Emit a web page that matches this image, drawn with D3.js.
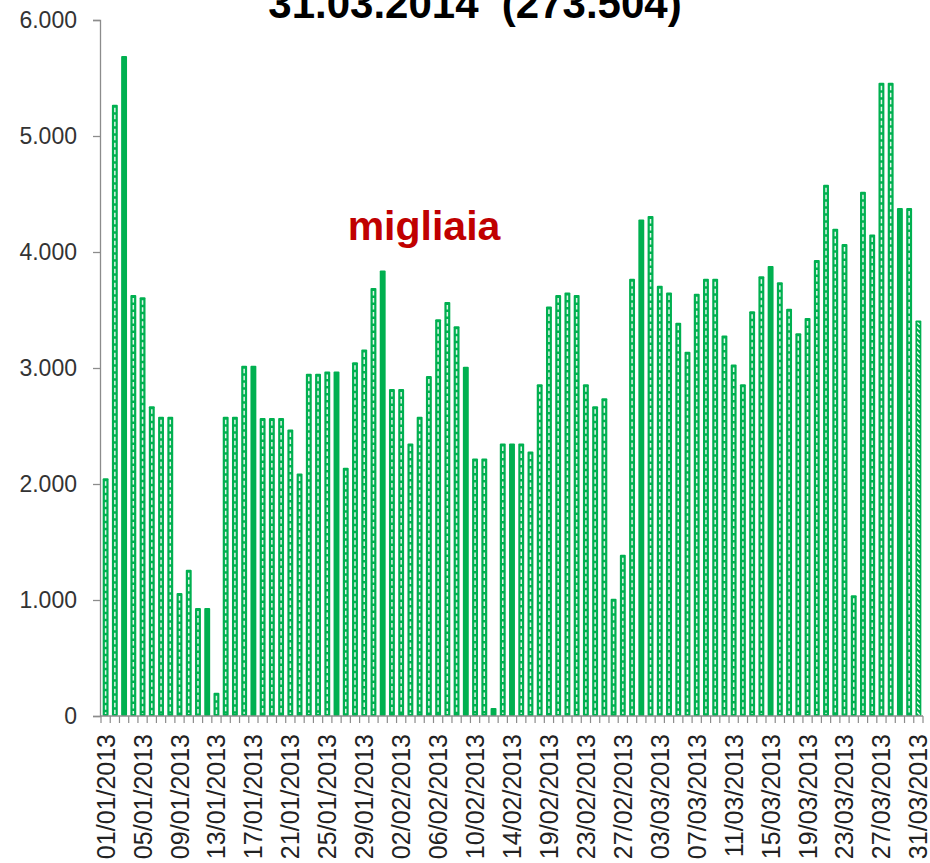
<!DOCTYPE html>
<html>
<head>
  <meta charset="UTF-8">
  <title>31.03.2014 (273.504)</title>
  <script src="https://cdn.jsdelivr.net/npm/d3@7"></script>
  <style>
    body { margin: 0; background: #fff; }
    svg { display: block; font-family: "Liberation Sans", Arial, sans-serif; }
  </style>
</head>
<body>
<div id="chart"></div>
<script>
// daily values, one per date below
var values = [
  2050, 5270, 5690, 3630, 3610, 2670, 2580, 2580, 1060, 1260,
  930, 930, 200, 2580, 2580, 3020, 3020, 2570, 2570, 2570,
  2470, 2090, 2950, 2950, 2970, 2970, 2140, 3050, 3160, 3690,
  3840, 2820, 2820, 2350, 2580, 2930, 3420, 3570, 3360, 3010,
  2220, 2220, 70, 2350, 2350, 2350, 2280, 2860, 3530, 3630,
  3650, 3630, 2860, 2670, 2740, 1010, 1390, 3770, 4280, 4310,
  3710, 3650, 3390, 3140, 3640, 3770, 3770, 3280, 3030, 2860,
  3490, 3790, 3880, 3740, 3510, 3300, 3430, 3930, 4580, 4200,
  4070, 1040, 4520, 4150, 5460, 5460, 4380, 4380, 3410
];

// months of 2013 shown and their day counts; one day in Feb has no bar
var months = ["01", "02", "03"];
var monthDays = [31, 28, 31];
var missingDates = ["17/02/2013"];

// bars drawn as plain (not dashed) green, and the last hatched one
var solidDates = ["03/01/2013", "12/01/2013", "17/01/2013", "26/01/2013", "31/01/2013",
                  "09/02/2013", "14/02/2013", "01/03/2013", "15/03/2013", "29/03/2013"];
var hatchedDates = ["31/03/2013"];

var tickLabels = ["01/01/2013", "05/01/2013", "09/01/2013", "13/01/2013", "17/01/2013",
  "21/01/2013", "25/01/2013", "29/01/2013", "02/02/2013", "06/02/2013", "10/02/2013",
  "14/02/2013", "19/02/2013", "23/02/2013", "27/02/2013", "03/03/2013", "07/03/2013",
  "11/03/2013", "15/03/2013", "19/03/2013", "23/03/2013", "27/03/2013", "31/03/2013"];

var yTicks = [0, 1000, 2000, 3000, 4000, 5000, 6000];
var title = "31.03.2014  (273.504)";
var unitLabel = "migliaia";

var dates = [];
months.forEach(function(m, mi) {
  for (var d = 1; d <= monthDays[mi]; d++) {
    var s = (d < 10 ? "0" + d : "" + d) + "/" + m + "/2013";
    if (missingDates.indexOf(s) < 0) dates.push(s);
  }
});

var data = dates.map(function(d, i) { return { date: d, value: values[i] }; });

var W = 930, H = 863;
var green = "#00b050";

var svg = d3.select("#chart").append("svg")
  .attr("width", W).attr("height", H);

var x = d3.scaleBand().domain(dates).range([101, 923]).paddingInner(0.36).paddingOuter(0.18);
var y = d3.scaleLinear().domain([0, 6000]).range([716, 20]);

var it = d3.formatLocale({ decimal: ",", thousands: ".", grouping: [3], currency: ["", "€"] });
var fmt = it.format(",d");

var defs = svg.append("defs");
var hatch = defs.append("pattern")
  .attr("id", "hatch").attr("patternUnits", "userSpaceOnUse")
  .attr("width", 5).attr("height", 5);
hatch.append("rect").attr("width", 5).attr("height", 5).attr("fill", green);
hatch.append("path").attr("d", "M-1,-1 L6,6").attr("stroke", "#fff").attr("stroke-width", 1.3);

// title (partly cut off at the top, as in the original)
svg.append("text")
  .attr("x", 475).attr("y", 18)
  .attr("text-anchor", "middle")
  .style("font-size", "42px").style("font-weight", "bold")
  .style("white-space", "pre")
  .attr("fill", "#000")
  .text(title);

svg.append("text")
  .attr("x", 424).attr("y", 240)
  .attr("text-anchor", "middle")
  .style("font-size", "41px").style("font-weight", "bold")
  .attr("fill", "#c00000")
  .text(unitLabel);

// y axis
var yAxis = d3.axisLeft(y).tickValues(yTicks).tickFormat(fmt).tickSize(7).tickPadding(16);
var gy = svg.append("g").attr("transform", "translate(100,0)").call(yAxis);
gy.select(".domain").attr("stroke", "#8c8c8c").attr("stroke-width", 1.3);
gy.selectAll(".tick line").attr("stroke", "#8c8c8c").attr("stroke-width", 1.3);
gy.selectAll(".tick text").attr("fill", "#333").style("font-size", "23px")
  .style("font-family", "'Liberation Sans', Arial, sans-serif");

// bars
var bw = x.bandwidth();
var bars = svg.append("g");
bars.selectAll("rect.bar").data(data).enter().append("rect")
  .attr("class", "bar")
  .attr("x", function(d) { return x(d.date); })
  .attr("y", function(d) { return y(d.value); })
  .attr("width", bw)
  .attr("height", function(d) { return y(0) - y(d.value); })
  .attr("rx", 1)
  .attr("fill", green);

// white dashes inside the patterned bars
bars.selectAll("line.dash")
  .data(data.filter(function(d) {
    return solidDates.indexOf(d.date) < 0 && hatchedDates.indexOf(d.date) < 0 && d.value > 100;
  }))
  .enter().append("line")
  .attr("class", "dash")
  .attr("x1", function(d) { return x(d.date) + bw / 2; })
  .attr("x2", function(d) { return x(d.date) + bw / 2; })
  .attr("y1", function(d) { return y(d.value) + 3; })
  .attr("y2", y(0) - 2)
  .attr("stroke", "#fff").attr("stroke-opacity", 0.88)
  .attr("stroke-width", 1.5)
  .attr("stroke-dasharray", "4.5,2.5");

// hatched bar(s)
bars.selectAll("rect.hatch")
  .data(data.filter(function(d) { return hatchedDates.indexOf(d.date) >= 0; }))
  .enter().append("rect")
  .attr("class", "hatch")
  .attr("x", function(d) { return x(d.date) + 1.6; })
  .attr("y", function(d) { return y(d.value) + 2; })
  .attr("width", bw - 3.2)
  .attr("height", function(d) { return y(0) - y(d.value) - 3; })
  .attr("fill", "url(#hatch)");

// x axis with ticks between categories
var step = x.step();
var gx = svg.append("g");
gx.append("line")
  .attr("x1", 100).attr("x2", 923).attr("y1", y(0)).attr("y2", y(0))
  .attr("stroke", "#8c8c8c").attr("stroke-width", 1.3);
gx.selectAll("line.tk").data(dates).enter().append("line")
  .attr("class", "tk")
  .attr("x1", function(d) { return x(d) - step * x.paddingInner() / 2; })
  .attr("x2", function(d) { return x(d) - step * x.paddingInner() / 2; })
  .attr("y1", y(0)).attr("y2", y(0) + 7)
  .attr("stroke", "#8c8c8c").attr("stroke-width", 1.2);
gx.append("line")
  .attr("x1", 923).attr("x2", 923).attr("y1", y(0)).attr("y2", y(0) + 7)
  .attr("stroke", "#8c8c8c").attr("stroke-width", 1.2);

gx.selectAll("text.xl").data(tickLabels).enter().append("text")
  .attr("class", "xl")
  .attr("transform", function(d) {
    return "translate(" + (x(d) + bw / 2) + "," + 734 + ") rotate(-90)";
  })
  .attr("dy", "0.36em")
  .attr("text-anchor", "end")
  .attr("fill", "#222")
  .style("font-size", "25px")
  .text(function(d) { return d; });
</script>
</body>
</html>
